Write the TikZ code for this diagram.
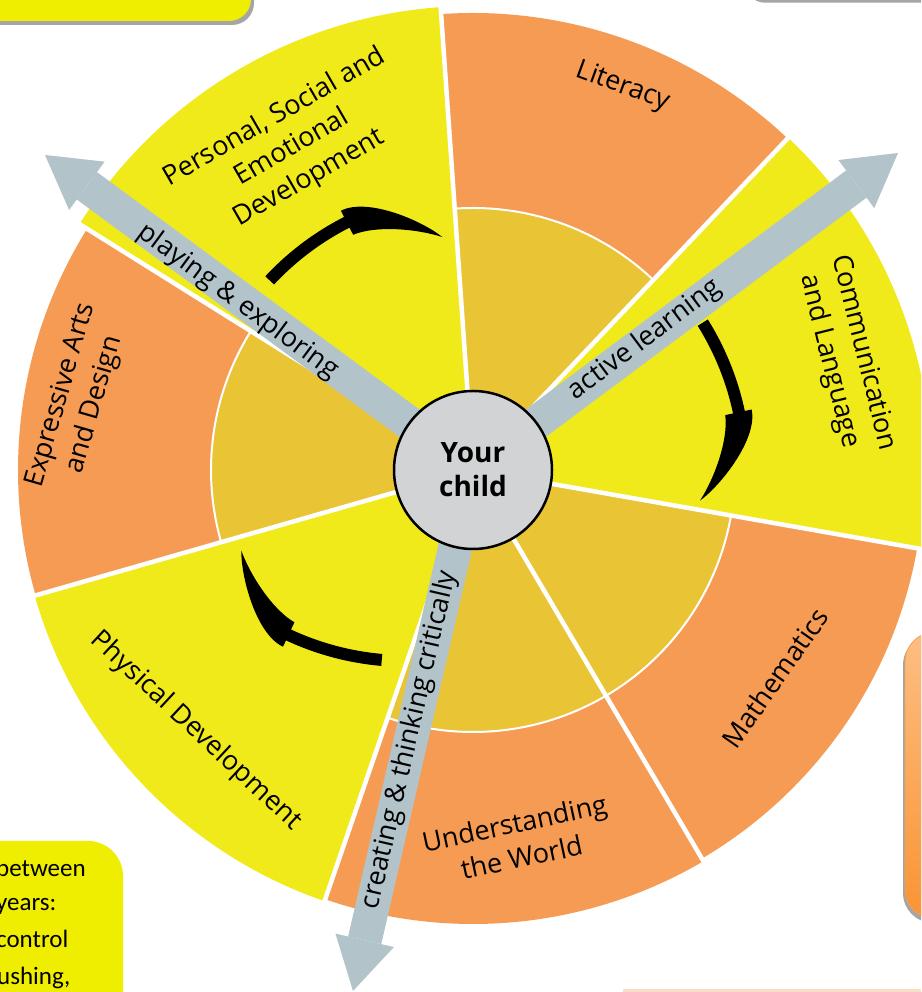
\documentclass[tikz,border=0pt]{standalone}
\usepackage{fontspec}
\setmainfont{Open Sans}
\newfontfamily\calfont{Carlito}
\usetikzlibrary{arrows.meta,calc}
\definecolor{pieyellow}{RGB}{241,234,26}
\definecolor{pieorange}{RGB}{246,155,83}
\definecolor{innergold}{RGB}{233,196,52}
\definecolor{arrowgray}{RGB}{178,196,202}
\definecolor{childgray}{RGB}{209,211,213}
\definecolor{boxyellow}{RGB}{240,238,0}
\definecolor{shadowgray}{RGB}{165,165,165}
\definecolor{boxorangetop}{RGB}{253,190,130}
\definecolor{boxorangebot}{RGB}{249,148,52}
\definecolor{boxorangeline}{RGB}{245,160,80}
\definecolor{peach}{RGB}{248,222,200}
\newcommand\mysector[4]{%
  \fill[#4] (o) -- ($(o)+(#1:#3)$) arc[start angle=#1, end angle=#2, radius=#3] -- cycle;}
\newcommand\myringarc[2]{%
  \draw[ringsep] ($(o)+(#1:262)$) arc[start angle=#1, end angle=#2, radius=262];}
\newcommand\swooshshape{%
  \fill[black] (20:284) arc[start angle=20,end angle=0,radius=284] -- (291,0)
      .. controls (291,-30) and (245,-68) .. (221.5,-78.4)
      .. controls (240,-60) and (262,-25) .. (264,0) -- (272,0)
      arc[start angle=0,end angle=20,radius=272] -- cycle;}
\begin{document}
\begin{tikzpicture}[x=1pt,y=1pt,
  lbl/.style={font=\fontsize{27}{35}\selectfont, align=center, text=black, inner sep=0pt},
  arrowlbl/.style={font=\fontsize{27}{35}\selectfont, text=black, inner sep=0pt},
  grayarrow/.style={draw=arrowgray, line width=34pt, -{Triangle[width=60pt,length=52pt,line width=0pt]}},
  sep/.style={draw=white, line width=4.5pt},
  ringsep/.style={draw=white, line width=2pt},
  boxtext/.style={anchor=base west, inner sep=0pt, font=\calfont\fontsize{25}{36}\selectfont, text=black}
]
\useasboundingbox (0,0) rectangle (921,992);
\clip (0,0) rectangle (921,992);
\fill[white] (0,0) rectangle (921,992);

% partial boxes at the borders
\fill[shadowgray, rounded corners=22pt] (-37,967) rectangle (254,1056);
\fill[boxyellow, rounded corners=22pt] (-40,971) rectangle (251,1060);
\fill[shadowgray, rounded corners=20pt] (745,989.3) rectangle (980,1080);
\fill[white, rounded corners=20pt] (742,992) rectangle (980,1080);
\fill[shadowgray, rounded corners=30pt] (903,69) rectangle (960,357);
\path[top color=boxorangetop, bottom color=boxorangebot, draw=boxorangeline, line width=0.8pt, rounded corners=30pt] (905,73) rectangle (960,360);
\fill[boxyellow, rounded corners=35pt] (-60,-60) rectangle (123,151);
\node[boxtext] (b1) at (-4,115) {between};
\node[boxtext] (b2) at (-4,81) {years:};
\node[boxtext] (b3) at (-4,44) {control};
\node[boxtext] (b4) at (-3,8) {ushing,};
\fill[peach] (623,0) rectangle (921,2.5);

\coordinate (o) at (473,522);

% sectors
\mysector{-10}{46.5}{458}{pieyellow}
\mysector{46.5}{94}{457}{pieorange}
\mysector{94}{148}{464}{pieyellow}
\mysector{148}{196}{455}{pieorange}
\mysector{196}{251}{456}{pieyellow}
\mysector{251}{300.5}{454}{pieorange}
\mysector{300.5}{350}{451}{pieorange}
\mysector{46.5}{94}{262}{innergold}
\mysector{148}{196}{262}{innergold}
\mysector{251}{350}{262}{innergold}
\myringarc{46.5}{94}
\myringarc{148}{196}
\myringarc{251}{350}
\foreach \a in {46.5,94,148,196,251,300.5,350}
  \draw[sep] (o) -- ($(o)+(\a:470)$);

% gray arrows
\coordinate (tipPE) at (45,837);
\coordinate (tipAL) at (898,839);
\coordinate (tipCT) at (353,1);
\draw[grayarrow] (o) -- (tipPE);
\draw[grayarrow] (o) -- (tipAL);
\draw[grayarrow] (o) -- (tipCT);

% black curved arrows
\begin{scope}[shift={(473,522)}, rotate=117] \swooshshape \end{scope}
\begin{scope}[shift={(467,522)}, rotate=12] \swooshshape \end{scope}
\begin{scope}[shift={(406,609)}, rotate=245] \swooshshape \end{scope}

% centre
\node[circle, draw=black, line width=2.5pt, fill=childgray, minimum size=158pt, inner sep=0pt,
      font=\bfseries\fontsize{28}{34}\selectfont, align=center] (child) at (o) {Your\\child};

% sector labels
\node[lbl, rotate=30] (psed) at (292,844) {Personal, Social and\\Emotional\\Development};
\node[lbl, rotate=-20] (lit) at (623,905) {Literacy};
\node[lbl, rotate=-76] (comm) at (846,635) {Communication\\and Language};
\node[lbl, rotate=55] (math) at (775,314) {Mathematics};
\node[lbl, rotate=12] (utw) at (518,152) {Understanding\\the World};
\node[lbl, rotate=-43] (pd) at (196,261) {Physical Development};
\node[lbl, rotate=74] (ead) at (78,592) {Expressive Arts\\and Design};

% arrow labels
\node[arrowlbl, rotate=-36.4] (pe) at (238,690) {playing \& exploring};
\node[arrowlbl, rotate=36.7] (al) at (645,652) {active learning};
\node[arrowlbl, rotate=77] (ct) at (410,252) {creating \& thinking critically};
\end{tikzpicture}
\end{document}
